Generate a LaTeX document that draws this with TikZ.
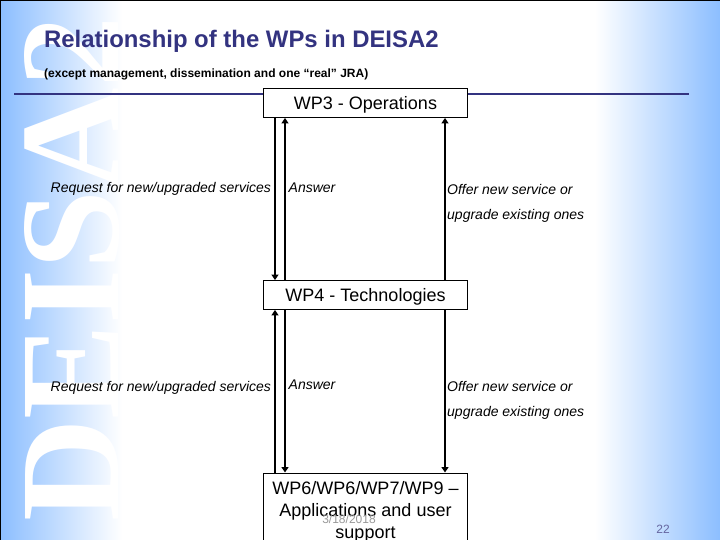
\documentclass[tikz,border=0pt]{standalone}
\usepackage{fontspec}
\setmainfont{Liberation Sans}
\newfontfamily\wmfont{Liberation Serif}
\usetikzlibrary{arrows.meta,positioning}
\definecolor{sideblue}{RGB}{140,190,255}
\definecolor{titleblue}{RGB}{51,51,128}
\tikzset{
  wpbox/.style={draw=black,line width=0.9pt,fill=white,inner sep=0pt,align=center,minimum width=204pt,font=\fontsize{18}{22}\selectfont},
  lab/.style={inner sep=0pt,anchor=base west,font=\fontsize{14}{16}\selectfont\itshape},
  conn/.style={line width=2pt,-{Triangle[length=5.5pt,width=7pt]}},
  plainline/.style={line width=2pt},
  foot/.style={inner sep=0pt,font=\fontsize{12}{14}\selectfont}
}
\begin{document}
\begin{tikzpicture}[x=1pt,y=-1pt]
\useasboundingbox (0,0) rectangle (720,540);
\fill[white] (0,0) rectangle (720,540);
\shade[left color=sideblue,right color=white] (0,0) rectangle (122,540);
\shade[left color=white,right color=sideblue] (595,0) rectangle (720,540);
\begin{scope}
\clip (0,0) rectangle (122,540);
\node[rotate=90,anchor=base west,inner sep=0pt,text=white,font=\wmfont\bfseries\fontsize{142}{142}\selectfont] (wm) at (118,522) {DEISA2};
\end{scope}
\draw[black,line width=1pt] (0,0.5) -- (720,0.5);
\draw[black,line width=1pt] (0.5,0) -- (0.5,540);
\node[inner sep=0pt,anchor=base west,text=titleblue,font=\bfseries\fontsize{23.9}{28}\selectfont] (title) at (44,47.5) {Relationship of the WPs in DEISA2};
\node[inner sep=0pt,anchor=base west,font=\bfseries\fontsize{12}{14}\selectfont] (sub) at (44,78) {(except management, dissemination and one “real” JRA)};
\coordinate (ruleL) at (14,94);
\coordinate (ruleR) at (689,94);
\draw[titleblue,line width=2pt] (ruleL) -- (ruleR);
\node[wpbox,minimum height=29pt,text height=16pt,text depth=3.5pt] (wp3) at (365.5,103) {WP3 - Operations};
\node[wpbox,minimum height=29pt,text height=16pt,text depth=3.5pt] (wp4) at (365.5,295) {WP4 - Technologies};
\node[wpbox,minimum height=78.5pt,anchor=north] (wp6) at (365.5,472.5) {WP6/WP6/WP7/WP9 –\\Applications and user\\support};
% connectors upper
\draw[conn] (wp3.south -| 275,0) -- (wp4.north -| 275,0);
\draw[conn] (wp4.north -| 285,0) -- (wp3.south -| 285,0);
\draw[conn] (wp4.north -| 445,0) -- (wp3.south -| 445,0);
% connectors lower
\draw[conn] (wp6.north -| 275,0) -- (wp4.south -| 275,0);
\draw[conn] (wp4.south -| 285,0) -- (wp6.north -| 285,0);
\draw[conn] (wp4.south -| 445,0) -- (wp6.north -| 445,0);
% labels
\node[lab] (l1) at (50.5,193) {Request for new/upgraded services};
\node[lab] (l2) at (288.5,193) {Answer};
\node[lab] (l3) at (447,195) {Offer new service or};
\node[lab] (l4) at (447,220) {upgrade existing ones};
\node[lab] (l5) at (50.5,391) {Request for new/upgraded services};
\node[lab] (l6) at (288.5,389) {Answer};
\node[lab] (l7) at (447,391) {Offer new service or};
\node[lab] (l8) at (447,416) {upgrade existing ones};
\node[foot,text=black!40,anchor=base] (date) at (349,523) {3/18/2018};
\node[foot,text=titleblue!75,anchor=base] (page) at (663,533) {22};
\end{tikzpicture}
\end{document}
